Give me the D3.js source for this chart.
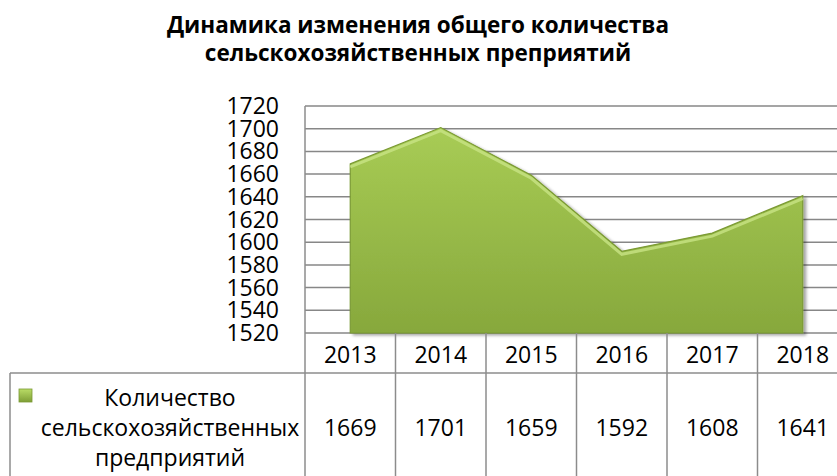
<!DOCTYPE html>
<meta charset="utf-8">
<style>
    body { margin: 0; background: #fff; }
    text { font-family: "Open Sans", "Noto Sans", sans-serif; fill: #000; }
</style>
<body>
<svg width="837" height="476"></svg>
<script src="https://cdn.jsdelivr.net/npm/d3@7"></script>
<script>
    // data
    var years = ["2013", "2014", "2015", "2016", "2017", "2018"];
    var counts = [1669, 1701, 1659, 1592, 1608, 1641];
    var yTicks = [1520, 1540, 1560, 1580, 1600, 1620, 1640, 1660, 1680, 1700, 1720];
    var seriesName = ["Количество", "сельскохозяйственных", "предприятий"];
    var titleLines = ["Динамика изменения общего количества", "сельскохозяйственных преприятий"];

    var svg = d3.select("svg"),
        width = +svg.attr("width"),
        height = +svg.attr("height");

    var plotLeft = 305, plotTop = 106, plotBottom = 333;
    var colW = 90.5;

    var x = d3.scaleBand()
        .domain(years)
        .range([plotLeft, plotLeft + colW * years.length]);

    var y = d3.scaleLinear()
        .domain([1520, 1720])
        .range([plotBottom, plotTop]);

    var defs = svg.append("defs");

    var grad = defs.append("linearGradient")
        .attr("id", "areaFill")
        .attr("x1", 0).attr("y1", 0).attr("x2", 0).attr("y2", 1);
    grad.append("stop").attr("offset", "0%").attr("stop-color", "#a8cc55");
    grad.append("stop").attr("offset", "100%").attr("stop-color", "#87a83c");

    var markGrad = defs.append("linearGradient")
        .attr("id", "markFill")
        .attr("x1", 0).attr("y1", 0).attr("x2", 0).attr("y2", 1);
    markGrad.append("stop").attr("offset", "0%").attr("stop-color", "#b9dc66");
    markGrad.append("stop").attr("offset", "100%").attr("stop-color", "#7e9e36");

    var shadow = defs.append("filter")
        .attr("id", "shadow")
        .attr("x", "-10%").attr("y", "-10%").attr("width", "120%").attr("height", "120%");
    shadow.append("feDropShadow")
        .attr("dx", 3).attr("dy", 2)
        .attr("stdDeviation", 1.5)
        .attr("flood-color", "#000")
        .attr("flood-opacity", 0.35);

    // title
    svg.append("g").selectAll("text")
        .data(titleLines)
        .enter().append("text")
        .attr("x", 418)
        .attr("y", function(d, i) { return 33 + i * 28; })
        .attr("text-anchor", "middle")
        .attr("font-weight", "bold")
        .attr("font-size", 22.5)
        .text(function(d) { return d; });

    // gridlines
    svg.append("g").selectAll("line")
        .data(yTicks)
        .enter().append("line")
        .attr("x1", plotLeft)
        .attr("x2", width)
        .attr("y1", function(d) { return y(d); })
        .attr("y2", function(d) { return y(d); })
        .attr("stroke", "#878787")
        .attr("stroke-width", 1.5);

    // y axis labels
    svg.append("g").selectAll("text")
        .data(yTicks)
        .enter().append("text")
        .attr("x", 279)
        .attr("y", function(d) { return y(d) + 8; })
        .attr("text-anchor", "end")
        .attr("font-size", 23)
        .text(function(d) { return d; });

    // area
    var area = d3.area()
        .x(function(d, i) { return x(years[i]) + x.bandwidth() / 2; })
        .y0(plotBottom)
        .y1(function(d) { return y(d); });

    var line = d3.line()
        .x(function(d, i) { return x(years[i]) + x.bandwidth() / 2; })
        .y(function(d) { return y(d); });

    svg.append("path")
        .datum(counts)
        .attr("d", area)
        .attr("fill", "url(#areaFill)")
        .attr("stroke", "#7b9a34")
        .attr("stroke-width", 1.2)
        .attr("filter", "url(#shadow)");

    // light bevel along the top edge
    svg.append("path")
        .datum(counts)
        .attr("d", line)
        .attr("fill", "none")
        .attr("stroke", "#c8e384")
        .attr("stroke-width", 3)
        .attr("transform", "translate(0,3)")
        .attr("opacity", 0.8);

    // table lines
    var table = svg.append("g")
        .attr("stroke", "#8c8c8c")
        .attr("stroke-width", 1.5);

    table.selectAll("line.col")
        .data(d3.range(years.length + 1))
        .enter().append("line")
        .attr("class", "col")
        .attr("x1", function(i) { return plotLeft + i * colW; })
        .attr("x2", function(i) { return plotLeft + i * colW; })
        .attr("y1", function(i) { return i == 0 ? plotTop : plotBottom; })
        .attr("y2", height);

    table.append("line")
        .attr("x1", 10).attr("x2", width)
        .attr("y1", 373).attr("y2", 373);

    table.append("line")
        .attr("x1", 10).attr("x2", 10)
        .attr("y1", 373).attr("y2", height);

    // year headers
    svg.append("g").selectAll("text")
        .data(years)
        .enter().append("text")
        .attr("x", function(d) { return x(d) + x.bandwidth() / 2; })
        .attr("y", 363)
        .attr("text-anchor", "middle")
        .attr("font-size", 23)
        .text(function(d) { return d; });

    // values row
    svg.append("g").selectAll("text")
        .data(counts)
        .enter().append("text")
        .attr("x", function(d, i) { return x(years[i]) + x.bandwidth() / 2; })
        .attr("y", 436)
        .attr("text-anchor", "middle")
        .attr("font-size", 23)
        .text(function(d) { return d; });

    // legend cell
    svg.append("rect")
        .attr("x", 19).attr("y", 389)
        .attr("width", 13).attr("height", 13)
        .attr("fill", "url(#markFill)")
        .attr("stroke", "#7b9a34")
        .attr("stroke-width", 0.8);

    svg.append("g").selectAll("text")
        .data(seriesName)
        .enter().append("text")
        .attr("x", 170)
        .attr("y", function(d, i) { return 406 + i * 30; })
        .attr("text-anchor", "middle")
        .attr("font-size", 23)
        .text(function(d) { return d; });
</script>
</body>
